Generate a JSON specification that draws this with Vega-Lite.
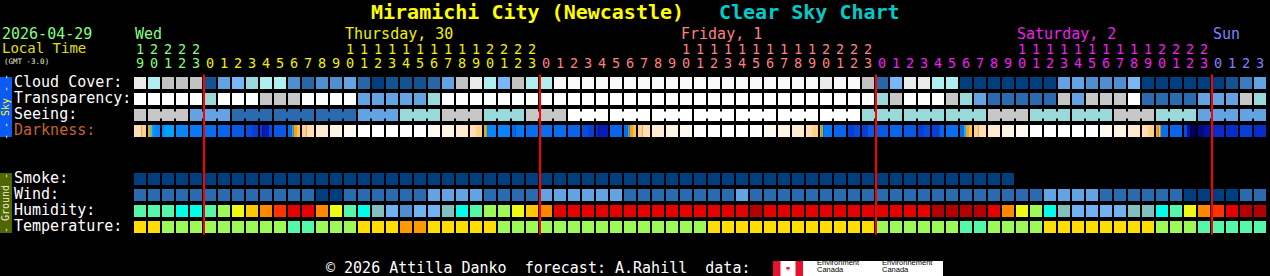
{
  "$schema": "https://vega.github.io/schema/vega-lite/v6.json",
  "width": 1270,
  "height": 276,
  "autosize": {"type": "none"},
  "padding": 0,
  "background": "#000000",
  "config": {"view": {"stroke": null}, "text": {"font": "DejaVu Sans Mono"}},
  "datasets": {
    "hours": [
      {"c":0,"h":19,"d":"Wed","cloud":10,"transp":5,"seeing":4,"smoke":0,"wind":1,"hum":5,"temp":3},
      {"c":1,"h":20,"d":"Wed","cloud":8,"transp":5,"seeing":4,"smoke":0,"wind":1,"hum":5,"temp":3},
      {"c":2,"h":21,"d":"Wed","cloud":9,"transp":5,"seeing":4,"smoke":0,"wind":1,"hum":5,"temp":2},
      {"c":3,"h":22,"d":"Wed","cloud":9,"transp":5,"seeing":4,"smoke":0,"wind":1,"hum":4,"temp":2},
      {"c":4,"h":23,"d":"Wed","cloud":9,"transp":5,"seeing":2,"smoke":0,"wind":1,"hum":4,"temp":2},
      {"c":5,"h":0,"d":"Thu","cloud":1,"transp":3,"seeing":2,"smoke":0,"wind":1,"hum":5,"temp":2},
      {"c":6,"h":1,"d":"Thu","cloud":5,"transp":5,"seeing":2,"smoke":0,"wind":1,"hum":6,"temp":2},
      {"c":7,"h":2,"d":"Thu","cloud":6,"transp":5,"seeing":1,"smoke":0,"wind":1,"hum":7,"temp":2},
      {"c":8,"h":3,"d":"Thu","cloud":7,"transp":5,"seeing":1,"smoke":0,"wind":1,"hum":8,"temp":2},
      {"c":9,"h":4,"d":"Thu","cloud":8,"transp":4,"seeing":1,"smoke":0,"wind":1,"hum":9,"temp":2},
      {"c":10,"h":5,"d":"Thu","cloud":8,"transp":4,"seeing":1,"smoke":0,"wind":1,"hum":10,"temp":2},
      {"c":11,"h":6,"d":"Thu","cloud":4,"transp":4,"seeing":1,"smoke":0,"wind":1,"hum":11,"temp":1},
      {"c":12,"h":7,"d":"Thu","cloud":2,"transp":5,"seeing":1,"smoke":0,"wind":1,"hum":11,"temp":1},
      {"c":13,"h":8,"d":"Thu","cloud":4,"transp":5,"seeing":1,"smoke":0,"wind":0,"hum":9,"temp":2},
      {"c":14,"h":9,"d":"Thu","cloud":4,"transp":5,"seeing":1,"smoke":0,"wind":0,"hum":7,"temp":2},
      {"c":15,"h":10,"d":"Thu","cloud":5,"transp":5,"seeing":1,"smoke":0,"wind":1,"hum":5,"temp":2},
      {"c":16,"h":11,"d":"Thu","cloud":2,"transp":2,"seeing":2,"smoke":0,"wind":1,"hum":4,"temp":3},
      {"c":17,"h":12,"d":"Thu","cloud":0,"transp":2,"seeing":2,"smoke":0,"wind":1,"hum":3,"temp":3},
      {"c":18,"h":13,"d":"Thu","cloud":1,"transp":2,"seeing":2,"smoke":0,"wind":1,"hum":2,"temp":3},
      {"c":19,"h":14,"d":"Thu","cloud":1,"transp":2,"seeing":3,"smoke":0,"wind":1,"hum":1,"temp":4},
      {"c":20,"h":15,"d":"Thu","cloud":1,"transp":2,"seeing":3,"smoke":0,"wind":1,"hum":2,"temp":4},
      {"c":21,"h":16,"d":"Thu","cloud":2,"transp":3,"seeing":3,"smoke":0,"wind":2,"hum":2,"temp":3},
      {"c":22,"h":17,"d":"Thu","cloud":5,"transp":5,"seeing":4,"smoke":0,"wind":2,"hum":3,"temp":3},
      {"c":23,"h":18,"d":"Thu","cloud":9,"transp":5,"seeing":4,"smoke":0,"wind":2,"hum":4,"temp":3},
      {"c":24,"h":19,"d":"Thu","cloud":10,"transp":5,"seeing":4,"smoke":0,"wind":2,"hum":5,"temp":3},
      {"c":25,"h":20,"d":"Thu","cloud":8,"transp":5,"seeing":3,"smoke":0,"wind":1,"hum":6,"temp":3},
      {"c":26,"h":21,"d":"Thu","cloud":6,"transp":5,"seeing":3,"smoke":0,"wind":1,"hum":6,"temp":2},
      {"c":27,"h":22,"d":"Thu","cloud":9,"transp":5,"seeing":3,"smoke":0,"wind":1,"hum":7,"temp":2},
      {"c":28,"h":23,"d":"Thu","cloud":8,"transp":5,"seeing":4,"smoke":0,"wind":1,"hum":8,"temp":2},
      {"c":29,"h":0,"d":"Fri","cloud":8,"transp":5,"seeing":4,"smoke":0,"wind":2,"hum":9,"temp":2},
      {"c":30,"h":1,"d":"Fri","cloud":11,"transp":5,"seeing":4,"smoke":0,"wind":2,"hum":11,"temp":2},
      {"c":31,"h":2,"d":"Fri","cloud":11,"transp":5,"seeing":5,"smoke":0,"wind":2,"hum":11,"temp":2},
      {"c":32,"h":3,"d":"Fri","cloud":11,"transp":5,"seeing":5,"smoke":0,"wind":2,"hum":11,"temp":2},
      {"c":33,"h":4,"d":"Fri","cloud":11,"transp":5,"seeing":5,"smoke":0,"wind":2,"hum":11,"temp":2},
      {"c":34,"h":5,"d":"Fri","cloud":11,"transp":5,"seeing":5,"smoke":0,"wind":2,"hum":11,"temp":2},
      {"c":35,"h":6,"d":"Fri","cloud":11,"transp":5,"seeing":5,"smoke":0,"wind":1,"hum":11,"temp":2},
      {"c":36,"h":7,"d":"Fri","cloud":11,"transp":5,"seeing":5,"smoke":0,"wind":1,"hum":11,"temp":2},
      {"c":37,"h":8,"d":"Fri","cloud":11,"transp":5,"seeing":5,"smoke":0,"wind":1,"hum":11,"temp":2},
      {"c":38,"h":9,"d":"Fri","cloud":11,"transp":5,"seeing":5,"smoke":0,"wind":1,"hum":11,"temp":2},
      {"c":39,"h":10,"d":"Fri","cloud":11,"transp":5,"seeing":5,"smoke":0,"wind":1,"hum":11,"temp":2},
      {"c":40,"h":11,"d":"Fri","cloud":11,"transp":5,"seeing":5,"smoke":0,"wind":1,"hum":11,"temp":2},
      {"c":41,"h":12,"d":"Fri","cloud":11,"transp":5,"seeing":5,"smoke":0,"wind":1,"hum":11,"temp":3},
      {"c":42,"h":13,"d":"Fri","cloud":11,"transp":5,"seeing":5,"smoke":0,"wind":1,"hum":11,"temp":3},
      {"c":43,"h":14,"d":"Fri","cloud":11,"transp":5,"seeing":5,"smoke":0,"wind":2,"hum":11,"temp":3},
      {"c":44,"h":15,"d":"Fri","cloud":11,"transp":5,"seeing":5,"smoke":0,"wind":1,"hum":12,"temp":3},
      {"c":45,"h":16,"d":"Fri","cloud":11,"transp":5,"seeing":5,"smoke":0,"wind":1,"hum":11,"temp":3},
      {"c":46,"h":17,"d":"Fri","cloud":11,"transp":5,"seeing":5,"smoke":0,"wind":1,"hum":11,"temp":3},
      {"c":47,"h":18,"d":"Fri","cloud":11,"transp":5,"seeing":5,"smoke":0,"wind":1,"hum":11,"temp":3},
      {"c":48,"h":19,"d":"Fri","cloud":11,"transp":5,"seeing":5,"smoke":0,"wind":1,"hum":11,"temp":3},
      {"c":49,"h":20,"d":"Fri","cloud":10,"transp":5,"seeing":5,"smoke":0,"wind":1,"hum":11,"temp":3},
      {"c":50,"h":21,"d":"Fri","cloud":11,"transp":5,"seeing":5,"smoke":0,"wind":1,"hum":11,"temp":3},
      {"c":51,"h":22,"d":"Fri","cloud":11,"transp":5,"seeing":5,"smoke":0,"wind":1,"hum":11,"temp":3},
      {"c":52,"h":23,"d":"Fri","cloud":9,"transp":5,"seeing":3,"smoke":0,"wind":1,"hum":11,"temp":3},
      {"c":53,"h":0,"d":"Sat","cloud":2,"transp":3,"seeing":3,"smoke":0,"wind":1,"hum":11,"temp":2},
      {"c":54,"h":1,"d":"Sat","cloud":6,"transp":4,"seeing":3,"smoke":0,"wind":1,"hum":11,"temp":2},
      {"c":55,"h":2,"d":"Sat","cloud":10,"transp":5,"seeing":3,"smoke":0,"wind":1,"hum":11,"temp":2},
      {"c":56,"h":3,"d":"Sat","cloud":10,"transp":5,"seeing":3,"smoke":0,"wind":1,"hum":11,"temp":2},
      {"c":57,"h":4,"d":"Sat","cloud":8,"transp":5,"seeing":3,"smoke":0,"wind":1,"hum":12,"temp":2},
      {"c":58,"h":5,"d":"Sat","cloud":8,"transp":4,"seeing":3,"smoke":0,"wind":1,"hum":12,"temp":2},
      {"c":59,"h":6,"d":"Sat","cloud":0,"transp":3,"seeing":3,"smoke":0,"wind":1,"hum":12,"temp":1},
      {"c":60,"h":7,"d":"Sat","cloud":0,"transp":2,"seeing":3,"smoke":0,"wind":1,"hum":12,"temp":1},
      {"c":61,"h":8,"d":"Sat","cloud":0,"transp":1,"seeing":4,"smoke":0,"wind":1,"hum":11,"temp":2},
      {"c":62,"h":9,"d":"Sat","cloud":0,"transp":1,"seeing":4,"smoke":0,"wind":1,"hum":9,"temp":2},
      {"c":63,"h":10,"d":"Sat","cloud":0,"transp":1,"seeing":4,"wind":1,"hum":7,"temp":2},
      {"c":64,"h":11,"d":"Sat","cloud":0,"transp":1,"seeing":3,"wind":1,"hum":6,"temp":2},
      {"c":65,"h":12,"d":"Sat","cloud":0,"transp":1,"seeing":3,"wind":2,"hum":4,"temp":3},
      {"c":66,"h":13,"d":"Sat","cloud":5,"transp":4,"seeing":3,"wind":2,"hum":3,"temp":3},
      {"c":67,"h":14,"d":"Sat","cloud":5,"transp":2,"seeing":3,"wind":2,"hum":2,"temp":3},
      {"c":68,"h":15,"d":"Sat","cloud":4,"transp":4,"seeing":3,"wind":2,"hum":2,"temp":3},
      {"c":69,"h":16,"d":"Sat","cloud":4,"transp":4,"seeing":3,"wind":1,"hum":2,"temp":3},
      {"c":70,"h":17,"d":"Sat","cloud":4,"transp":4,"seeing":4,"wind":1,"hum":2,"temp":3},
      {"c":71,"h":18,"d":"Sat","cloud":6,"transp":5,"seeing":4,"wind":1,"hum":3,"temp":3},
      {"c":72,"h":19,"d":"Sat","cloud":0,"transp":1,"seeing":4,"wind":1,"hum":3,"temp":3},
      {"c":73,"h":20,"d":"Sat","cloud":0,"transp":1,"seeing":3,"wind":1,"hum":4,"temp":2},
      {"c":74,"h":21,"d":"Sat","cloud":0,"transp":1,"seeing":3,"wind":1,"hum":5,"temp":2},
      {"c":75,"h":22,"d":"Sat","cloud":0,"transp":1,"seeing":3,"wind":0,"hum":7,"temp":2},
      {"c":76,"h":23,"d":"Sat","cloud":0,"transp":2,"seeing":2,"wind":0,"hum":9,"temp":1},
      {"c":77,"h":0,"d":"Sun","cloud":0,"transp":2,"seeing":2,"wind":0,"hum":10,"temp":1},
      {"c":78,"h":1,"d":"Sun","cloud":1,"transp":2,"seeing":2,"wind":0,"hum":11,"temp":1},
      {"c":79,"h":2,"d":"Sun","cloud":3,"transp":4,"seeing":2,"wind":1,"hum":12,"temp":1},
      {"c":80,"h":3,"d":"Sun","cloud":5,"transp":3,"seeing":2,"wind":1,"hum":12,"temp":1}
    ],
    "dark": [
      {"c":0,"f1":0.6,"v":"p4"},{"c":0,"f0":0.6,"v":"p5"},
      {"c":1,"f1":0.17,"v":"o"},{"c":1,"f0":0.17,"f1":0.33,"v":"gr"},{"c":1,"f0":0.33,"f1":0.5,"v":"az"},{"c":1,"f0":0.5,"v":"b1"},
      {"c":2,"f1":0.17,"v":"b1"},{"c":2,"f0":0.17,"v":"az"},
      {"c":3,"v":"b1"},{"c":4,"v":"b2"},{"c":5,"v":"b3"},{"c":6,"v":"b4"},{"c":7,"v":"b5"},
      {"c":8,"f1":0.5,"v":"b6"},{"c":8,"f0":0.5,"v":"b7"},
      {"c":9,"f1":0.2,"v":"b7"},{"c":9,"f0":0.2,"f1":0.75,"v":"b9"},{"c":9,"f0":0.75,"v":"b6"},
      {"c":10,"v":"b5"},
      {"c":11,"f1":0.3,"v":"b3"},{"c":11,"f0":0.3,"f1":0.45,"v":"cy"},{"c":11,"f0":0.45,"f1":0.75,"v":"o"},{"c":11,"f0":0.75,"v":"yl"},
      {"c":12,"f1":0.4,"v":"p5"},{"c":12,"f0":0.4,"v":"p4"},
      {"c":13,"v":"p3"},{"c":14,"v":"p2"},{"c":15,"v":"p1"},
      {"c":16,"v":"w"},{"c":17,"v":"w"},{"c":18,"v":"w"},{"c":19,"v":"w"},{"c":20,"v":"w"},
      {"c":21,"v":"p1"},{"c":22,"v":"p2"},{"c":23,"v":"p3"},
      {"c":24,"f1":0.5,"v":"p4"},{"c":24,"f0":0.5,"v":"p5"},
      {"c":25,"f1":0.17,"v":"o"},{"c":25,"f0":0.17,"f1":0.3,"v":"gr"},{"c":25,"f0":0.3,"v":"b1"},
      {"c":26,"v":"b1"},
      {"c":27,"f1":0.3,"v":"b4"},{"c":27,"f0":0.3,"v":"b2"},
      {"c":28,"v":"b3"},{"c":29,"v":"b3"},{"c":30,"v":"b3"},{"c":31,"v":"b4"},
      {"c":32,"f1":0.5,"v":"b6"},{"c":32,"f0":0.5,"v":"b7"},
      {"c":33,"f1":0.2,"v":"b8"},{"c":33,"f0":0.2,"v":"b9"},
      {"c":34,"v":"b4"},
      {"c":35,"f1":0.3,"v":"b3"},{"c":35,"f0":0.3,"f1":0.45,"v":"cy"},{"c":35,"f0":0.45,"f1":0.75,"v":"o"},{"c":35,"f0":0.75,"v":"yl"},
      {"c":36,"f1":0.4,"v":"p5"},{"c":36,"f0":0.4,"v":"p4"},
      {"c":37,"v":"p3"},{"c":38,"v":"p2"},{"c":39,"v":"p1"},
      {"c":40,"v":"w"},{"c":41,"v":"w"},{"c":42,"v":"w"},{"c":43,"v":"w"},{"c":44,"v":"w"},
      {"c":45,"v":"p1"},{"c":46,"v":"p2"},{"c":47,"v":"p3"},
      {"c":48,"f1":0.5,"v":"p4"},{"c":48,"f0":0.5,"v":"p5"},
      {"c":49,"f1":0.15,"v":"o"},{"c":49,"f0":0.15,"f1":0.28,"v":"gr"},{"c":49,"f0":0.28,"v":"b2"},
      {"c":50,"v":"b4"},
      {"c":51,"f1":0.5,"v":"b7"},{"c":51,"f0":0.5,"v":"b6"},
      {"c":52,"f1":0.5,"v":"b7"},{"c":52,"f0":0.5,"v":"b5"},
      {"c":53,"v":"b5"},{"c":54,"v":"b4"},{"c":55,"v":"b5"},
      {"c":56,"f1":0.5,"v":"b7"},{"c":56,"f0":0.5,"v":"b6"},
      {"c":57,"f1":0.6,"v":"b7"},{"c":57,"f0":0.6,"v":"b4"},
      {"c":58,"v":"b3"},
      {"c":59,"f1":0.3,"v":"b3"},{"c":59,"f0":0.3,"f1":0.5,"v":"cy"},{"c":59,"f0":0.5,"f1":0.75,"v":"o"},{"c":59,"f0":0.75,"v":"yl"},
      {"c":60,"f1":0.4,"v":"p5"},{"c":60,"f0":0.4,"v":"p4"},
      {"c":61,"v":"p3"},{"c":62,"v":"p2"},{"c":63,"v":"p1"},
      {"c":64,"v":"w"},{"c":65,"v":"w"},{"c":66,"v":"w"},{"c":67,"v":"w"},{"c":68,"v":"w"},
      {"c":69,"v":"p1"},{"c":70,"v":"p2"},{"c":71,"v":"p3"},
      {"c":72,"f1":0.5,"v":"p4"},{"c":72,"f0":0.5,"v":"p5"},
      {"c":73,"f1":0.2,"v":"o"},{"c":73,"f0":0.2,"f1":0.4,"v":"yl"},{"c":73,"f0":0.4,"v":"b3"},
      {"c":74,"v":"b4"},
      {"c":75,"f1":0.25,"v":"b6"},{"c":75,"f0":0.25,"f1":0.5,"v":"n1"},{"c":75,"f0":0.5,"v":"n3"},
      {"c":76,"f1":0.5,"v":"n2"},{"c":76,"f0":0.5,"v":"n1"},
      {"c":77,"v":"b8"},{"c":78,"v":"b8"},{"c":79,"v":"b7"},{"c":80,"v":"b8"}
    ],
    "days": [
      {"c":0,"d":"Wed","t":"Wed"},
      {"c":15,"d":"Thu","t":"Thursday, 30"},
      {"c":39,"d":"Fri","t":"Friday, 1"},
      {"c":63,"d":"Sat","t":"Saturday, 2"},
      {"c":77,"d":"Sun","t":"Sun"}
    ],
    "rows": [
      {"r":0,"t":"Cloud Cover:"},
      {"r":1,"t":"Transparency:"},
      {"r":2,"t":"Seeing:"},
      {"r":3,"t":"Darkness:"},
      {"r":6,"t":"Smoke:"},
      {"r":7,"t":"Wind:"},
      {"r":8,"t":"Humidity:"},
      {"r":9,"t":"Temperature:"}
    ]
  },
  "encoding": {
    "x": {"field": "x", "type": "quantitative", "scale": {"domain": [-9.571428571, 81.142857143], "nice": false, "zero": false}, "axis": null},
    "y": {"field": "y", "type": "quantitative", "scale": {"domain": [-4.8125, 12.4375], "nice": false, "zero": false, "reverse": true}, "axis": null}
  },
  "layer": [
    {
      "data": {"name": "hours"},
      "transform": [
        {"fold": ["cloud", "transp", "seeing", "smoke", "wind", "hum", "temp"], "as": ["p", "v"]},
        {"filter": "isValid(datum.v)"},
        {"calculate": "datum.p + '-' + datum.v", "as": "key"},
        {"calculate": "datum.c", "as": "x"},
        {"calculate": "datum.c + 12/14", "as": "x2"},
        {"calculate": "indexof(['cloud','transp','seeing','dark','-','-','smoke','wind','hum','temp'], datum.p)", "as": "y"},
        {"calculate": "datum.y + 0.75", "as": "y2"}
      ],
      "mark": {"type": "rect"},
      "encoding": {
        "x2": {"field": "x2"},
        "y2": {"field": "y2"},
        "color": {
          "field": "key", "type": "nominal", "legend": null,
          "scale": {
            "domain": ["cloud-0","cloud-1","cloud-2","cloud-3","cloud-4","cloud-5","cloud-6","cloud-7","cloud-8","cloud-9","cloud-10","cloud-11",
                       "transp-1","transp-2","transp-3","transp-4","transp-5",
                       "seeing-1","seeing-2","seeing-3","seeing-4","seeing-5",
                       "smoke-0","wind-0","wind-1","wind-2",
                       "hum-1","hum-2","hum-3","hum-4","hum-5","hum-6","hum-7","hum-8","hum-9","hum-10","hum-11","hum-12",
                       "temp-1","temp-2","temp-3","temp-4"],
            "range": ["#003f7f","#135393","#2767a7","#3b7bbb","#4f8fcf","#63a3e3","#77b7f7","#9adada","#aeeeee","#c2c2c2","#eaeaea","#f9f9f9",
                      "#2a6aae","#63a3e3","#99d9d9","#c7c7c7","#ffffff",
                      "#2a6aae","#63a3e3","#99d9d9","#c7c7c7","#ffffff",
                      "#003f7f","#003f7f","#2a6aae","#63a3e3",
                      "#4f8fcf","#6fb1f1","#82bfbf","#00ffe8","#55f7a8","#9cf958","#eefa12","#ffc800","#ff8800","#ff3300","#e60000","#b30000",
                      "#55f7a8","#9cf958","#ffdd00","#ff9900"]
          }
        }
      }
    },
    {
      "data": {"name": "hours"},
      "transform": [
        {"filter": "(datum.c + 2) % 3 < 2 && datum.c < 80"},
        {"calculate": "datum.c + 12/14", "as": "x"},
        {"calculate": "datum.c + 1", "as": "x2"},
        {"calculate": "2.15", "as": "y"},
        {"calculate": "2.6", "as": "y2"}
      ],
      "mark": {"type": "rect"},
      "encoding": {
        "x2": {"field": "x2"},
        "y2": {"field": "y2"},
        "color": {"field": "seeing", "type": "ordinal", "legend": null,
          "scale": {"domain": [1, 2, 3, 4, 5], "range": ["#2a6aae", "#63a3e3", "#99d9d9", "#c7c7c7", "#ffffff"]}}
      }
    },
    {
      "data": {"name": "dark"},
      "transform": [
        {"calculate": "datum.c + (isValid(datum.f0) ? datum.f0 : 0) * 12/14", "as": "x"},
        {"calculate": "datum.c + (isValid(datum.f1) ? datum.f1 : 1) * 12/14", "as": "x2"},
        {"calculate": "3", "as": "y"},
        {"calculate": "3.75", "as": "y2"}
      ],
      "mark": {"type": "rect"},
      "encoding": {
        "x2": {"field": "x2"},
        "y2": {"field": "y2"},
        "color": {"field": "v", "type": "nominal", "legend": null,
          "scale": {
            "domain": ["w","p1","p2","p3","p4","p5","o","yl","gr","cy","az","b1","b2","b3","b4","b5","b6","b7","b8","b9","n1","n2","n3"],
            "range": ["#ffffff","#fff9f0","#fff3e2","#ffeacd","#ffdfb2","#ffcf8c","#f5a020","#ffc34a","#5ccf9c","#12b4ff","#00a0ff","#0a84fc","#0878f4","#086eee","#0864ea","#085ae4","#084cdc","#083ed4","#082cc8","#081cba","#0412a4","#020a84","#00005c"]
          }}
      }
    },
    {
      "data": {"name": "hours"},
      "transform": [
        {"filter": "datum.h === 0"},
        {"calculate": "datum.c", "as": "x"},
        {"calculate": "-0.15", "as": "y"},
        {"calculate": "9.85", "as": "y2"}
      ],
      "mark": {"type": "rule", "color": "#ff0000", "strokeWidth": 2},
      "encoding": {"y2": {"field": "y2"}}
    },
    {
      "data": {"values": [{"t": "Sky"}, {"t": "Ground"}]},
      "transform": [
        {"calculate": "-9.571428571", "as": "x"},
        {"calculate": "-8.714285714", "as": "x2"},
        {"calculate": "datum.t === 'Sky' ? 0 : 6", "as": "y"},
        {"calculate": "datum.y + 3.75", "as": "y2"}
      ],
      "mark": {"type": "rect"},
      "encoding": {
        "x2": {"field": "x2"},
        "y2": {"field": "y2"},
        "color": {"condition": {"test": "datum.t === 'Sky'", "value": "#0a5af5"}, "value": "#506600"}
      }
    },
    {
      "data": {"values": [{"t": "- - Sky - -", "k": "Sky"}, {"t": "- Ground -", "k": "Ground"}]},
      "transform": [
        {"calculate": "-9.142857", "as": "x"},
        {"calculate": "datum.k === 'Sky' ? 1.875 : 7.875", "as": "y"}
      ],
      "mark": {"type": "text", "angle": 270, "align": "center", "baseline": "middle", "fontSize": 10},
      "encoding": {
        "text": {"field": "t"},
        "color": {"condition": {"test": "datum.k === 'Sky'", "value": "#ffff00"}, "value": "#ecebd0"}
      }
    },
    {
      "data": {"name": "rows"},
      "transform": [
        {"calculate": "-8.5714286", "as": "x"},
        {"calculate": "datum.r + 0.34", "as": "y"}
      ],
      "mark": {"type": "text", "align": "left", "baseline": "middle", "fontSize": 15},
      "encoding": {
        "text": {"field": "t"},
        "color": {"condition": {"test": "datum.r === 3", "value": "#c8642c"}, "value": "#ffffff"}
      }
    },
    {
      "data": {"name": "days"},
      "transform": [
        {"calculate": "datum.c + 1/14", "as": "x"},
        {"calculate": "-2.6875", "as": "y"}
      ],
      "mark": {"type": "text", "align": "left", "baseline": "middle", "fontSize": 15},
      "encoding": {
        "text": {"field": "t"},
        "color": {"field": "d", "type": "nominal", "legend": null,
          "scale": {"domain": ["Wed", "Thu", "Fri", "Sat", "Sun"], "range": ["#80ff80", "#f0f000", "#ff8080", "#ee22ee", "#8080ff"]}}
      }
    },
    {
      "data": {"name": "hours"},
      "transform": [
        {"filter": "datum.h >= 10"},
        {"calculate": "'' + floor(datum.h / 10)", "as": "t"},
        {"calculate": "datum.c + 6/14", "as": "x"},
        {"calculate": "-1.6875", "as": "y"}
      ],
      "mark": {"type": "text", "align": "center", "baseline": "middle", "fontSize": 13.5},
      "encoding": {
        "text": {"field": "t"},
        "color": {"field": "d", "type": "nominal", "legend": null,
          "scale": {"domain": ["Wed", "Thu", "Fri", "Sat", "Sun"], "range": ["#80ff80", "#f0f000", "#ff8080", "#ee22ee", "#8080ff"]}}
      }
    },
    {
      "data": {"name": "hours"},
      "transform": [
        {"calculate": "'' + (datum.h % 10)", "as": "t"},
        {"calculate": "datum.c + 6/14", "as": "x"},
        {"calculate": "-0.8125", "as": "y"}
      ],
      "mark": {"type": "text", "align": "center", "baseline": "middle", "fontSize": 13.5},
      "encoding": {
        "text": {"field": "t"},
        "color": {"field": "d", "type": "nominal", "legend": null,
          "scale": {"domain": ["Wed", "Thu", "Fri", "Sat", "Sun"], "range": ["#80ff80", "#f0f000", "#ff8080", "#ee22ee", "#8080ff"]}}
      }
    },
    {
      "data": {"values": [{"t": "Miramichi City (Newcastle)"}]},
      "transform": [{"calculate": "16.928571", "as": "x"}, {"calculate": "-4.03", "as": "y"}],
      "mark": {"type": "text", "align": "left", "baseline": "middle", "fontSize": 20, "fontWeight": "bold", "color": "#ffff00"},
      "encoding": {"text": {"field": "t"}}
    },
    {
      "data": {"values": [{"t": "Clear Sky Chart"}]},
      "transform": [{"calculate": "41.785714", "as": "x"}, {"calculate": "-4.03", "as": "y"}],
      "mark": {"type": "text", "align": "left", "baseline": "middle", "fontSize": 20, "fontWeight": "bold", "color": "#00cccc"},
      "encoding": {"text": {"field": "t"}}
    },
    {
      "data": {"values": [{"t": "2026-04-29"}]},
      "transform": [{"calculate": "-9.428571", "as": "x"}, {"calculate": "-2.6875", "as": "y"}],
      "mark": {"type": "text", "align": "left", "baseline": "middle", "fontSize": 15, "color": "#80ff80"},
      "encoding": {"text": {"field": "t"}}
    },
    {
      "data": {"values": [{"t": "Local Time"}]},
      "transform": [{"calculate": "-9.428571", "as": "x"}, {"calculate": "-1.72", "as": "y"}],
      "mark": {"type": "text", "align": "left", "baseline": "middle", "fontSize": 14, "color": "#e0e000"},
      "encoding": {"text": {"field": "t"}}
    },
    {
      "data": {"values": [{"t": "(GMT -3.0)"}]},
      "transform": [{"calculate": "-9.285714", "as": "x"}, {"calculate": "-0.93", "as": "y"}],
      "mark": {"type": "text", "align": "left", "baseline": "middle", "fontSize": 7.5, "color": "#ecebd0"},
      "encoding": {"text": {"field": "t"}}
    },
    {
      "data": {"values": [{"t": "© 2026 Attilla Danko\u00a0 forecast: A.Rahill\u00a0 data:"}]},
      "transform": [{"calculate": "13.714286", "as": "x"}, {"calculate": "11.9375", "as": "y"}],
      "mark": {"type": "text", "align": "left", "baseline": "middle", "fontSize": 15, "color": "#ffffff"},
      "encoding": {"text": {"field": "t"}}
    },
    {
      "data": {"values": [{"part": "box"}]},
      "transform": [
        {"calculate": "45.642857", "as": "x"},
        {"calculate": "57.785714", "as": "x2"},
        {"calculate": "11.5", "as": "y"},
        {"calculate": "12.4375", "as": "y2"}
      ],
      "mark": {"type": "rect", "color": "#ffffff"},
      "encoding": {"x2": {"field": "x2"}, "y2": {"field": "y2"}}
    },
    {
      "data": {"values": [{"side": "left"}, {"side": "right"}]},
      "transform": [
        {"calculate": "datum.side === 'left' ? 45.642857 : 47.25", "as": "x"},
        {"calculate": "datum.x + 0.535714", "as": "x2"},
        {"calculate": "11.5", "as": "y"},
        {"calculate": "12.4375", "as": "y2"}
      ],
      "mark": {"type": "rect", "color": "#e8112d"},
      "encoding": {"x2": {"field": "x2"}, "y2": {"field": "y2"}}
    },
    {
      "data": {"values": [{"part": "leaf"}]},
      "transform": [{"calculate": "46.714286", "as": "x"}, {"calculate": "11.97", "as": "y"}],
      "mark": {"type": "point", "filled": true, "color": "#e8112d", "size": 22, "opacity": 1,
        "shape": "M0,-1 L0.3,-0.45 L0.95,-0.65 L0.6,0 L0.95,0.3 L0.15,0.35 L0.12,1 L-0.12,1 L-0.15,0.35 L-0.95,0.3 L-0.6,0 L-0.95,-0.65 L-0.3,-0.45 Z"},
      "encoding": {}
    },
    {
      "data": {"values": [{"t": "Environment\nCanada"}]},
      "transform": [{"calculate": "48.785714", "as": "x"}, {"calculate": "11.62", "as": "y"}],
      "mark": {"type": "text", "align": "left", "baseline": "middle", "fontSize": 7.5, "lineHeight": 7, "lineBreak": "\n", "font": "Liberation Sans", "color": "#000000"},
      "encoding": {"text": {"field": "t"}}
    },
    {
      "data": {"values": [{"t": "Environnement\nCanada"}]},
      "transform": [{"calculate": "53.428571", "as": "x"}, {"calculate": "11.62", "as": "y"}],
      "mark": {"type": "text", "align": "left", "baseline": "middle", "fontSize": 7.5, "lineHeight": 7, "lineBreak": "\n", "font": "Liberation Sans", "color": "#000000"},
      "encoding": {"text": {"field": "t"}}
    }
  ],
  "resolve": {"scale": {"color": "independent"}}
}
